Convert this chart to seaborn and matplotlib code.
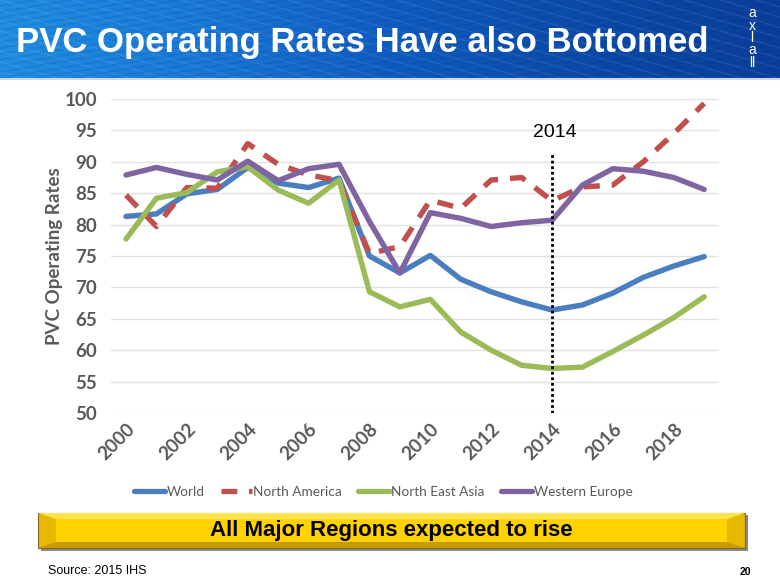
import numpy as np
import pandas as pd
import seaborn as sns
import matplotlib.pyplot as plt
from matplotlib.lines import Line2D
from matplotlib.patches import Rectangle, Polygon
from matplotlib.colors import LinearSegmentedColormap

years = list(range(2000, 2020))
world = [81.3, 81.7, 84.9, 85.6, 89.1, 86.6, 85.9, 87.4, 75.0, 72.3,
         75.1, 71.3, 69.3, 67.7, 66.4, 67.2, 69.1, 71.6, 73.4, 74.9]
north_america = [84.7, 79.7, 85.9, 85.8, 92.9, 89.6, 87.9, 87.0, 75.4, 76.5,
                 83.9, 82.6, 87.1, 87.5, 83.8, 86.0, 86.3, 90.0, 94.5, 99.3]
north_east_asia = [77.7, 84.2, 85.1, 88.4, 89.2, 85.5, 83.4, 87.1, 69.3, 66.9,
                   68.1, 62.9, 60.0, 57.6, 57.1, 57.3, 59.8, 62.4, 65.2, 68.5]
western_europe = [87.9, 89.1, 88.0, 87.1, 90.1, 87.0, 88.9, 89.6, 80.5, 72.3,
                  81.9, 81.0, 79.7, 80.3, 80.7, 86.3, 88.9, 88.5, 87.5, 85.6]
regions = ["World", "North America", "North East Asia", "Western Europe"]
colors = ["#4a7ebf", "#c0504d", "#9bbb59", "#8064a2"]
tick_years = list(range(2000, 2019, 2))

df = pd.DataFrame({
    "year": years * 4,
    "rate": world + north_america + north_east_asia + western_europe,
    "region": sum([[r] * len(years) for r in regions], []),
})

sns.set_theme(style="white")
plt.rcParams["font.family"] = ["Liberation Sans", "DejaVu Sans"]

fig = plt.figure(figsize=(7.8, 5.85), dpi=100)

# header band
hdr = fig.add_axes([0, 1 - 78 / 585, 1, 78 / 585])
grad = np.linspace(0, 1, 400)[None, :]
cmap = LinearSegmentedColormap.from_list("hdr", ["#1f8de2", "#1a78d6", "#0f5cc0", "#0b4aa8", "#0a3e9a"])
hdr.imshow(np.repeat(grad, 10, axis=0), aspect="auto", cmap=cmap, extent=[0, 1, 0, 1])
for k in np.linspace(-0.6, 1.2, 40):
    hdr.plot([k, k + 0.35], [1, 0], color="white", alpha=0.07, lw=1.2)
    hdr.plot([k, k + 0.6], [0, 1], color="#06307a", alpha=0.12, lw=1.2)
hdr.set_xlim(0, 1)
hdr.set_ylim(0, 1)
hdr.axis("off")
hdr.text(0.02, 0.46, "PVC Operating Rates Have also Bottomed", color="white",
         fontsize=25, fontweight="bold", va="center", ha="left",
         transform=hdr.transAxes)
# stacked logo letters (one text block)
hdr.text(752 / 780, 1 - 38 / 78, "a\nx\nl\na\nll", color="white", fontsize=10,
         linespacing=0.85, ha="center", va="center", multialignment="center",
         transform=hdr.transAxes)
fig.add_artist(Line2D([0, 1], [1 - 79 / 585] * 2, color="#d0d8e8", lw=1.5))

# main chart
ax = fig.add_axes([110.8 / 780, 172 / 585, 608.6 / 780, 314 / 585])
sns.lineplot(data=df, x="year", y="rate", hue="region", style="region",
             palette=dict(zip(regions, colors)),
             dashes={"World": "", "North America": (3, 2.2),
                     "North East Asia": "", "Western Europe": ""},
             linewidth=3.9, legend=False, ax=ax)
ax.set_xlim(1999.5, 2019.5)
ax.set_ylim(50, 100)
ax.set_yticks(range(50, 101, 5))
ax.set_xticks(tick_years)
ax.set_xticklabels([str(t) for t in tick_years], rotation=45, ha="right",
                   rotation_mode="anchor", fontsize=13.5, fontweight="bold",
                   color="#595959", family="Lato")
ax.set_yticklabels([str(t) for t in range(50, 101, 5)], fontsize=13.5,
                   fontweight="bold", color="#595959", family="Lato")
ax.tick_params(axis="x", pad=5, length=0)
ax.tick_params(axis="y", pad=10, length=0)
ax.yaxis.grid(True, color="#e2e2e2", lw=1)
for s in ax.spines.values():
    s.set_visible(False)
ax.set_xlabel("")
ax.set_ylabel("PVC Operating Rates", fontsize=13.5, fontweight="bold",
              color="#595959", family="Lato", labelpad=1)

ax.plot([2014, 2014], [50, 91.2], color="black", ls=(0, (1, 1)), lw=2)
ax.text(2014.1, 94.6, "2014", fontsize=14, ha="center", va="center", color="black")

handles = [Line2D([], [], color=c, lw=3.8, ls=(0, (3, 2.2)) if r == "North America" else "-")
           for r, c in zip(regions, colors)]
fig.legend(handles, regions, loc="center", bbox_to_anchor=(383 / 780, 1 - 492 / 585),
           ncol=4, frameon=False, handlelength=2.3, handletextpad=0.1,
           columnspacing=1.2, prop={"family": "Lato", "size": 9.8},
           labelcolor="#595959")

# yellow banner
fig.add_artist(Rectangle((41 / 780, 1 - 551 / 585), 707 / 780, 36 / 585,
                         facecolor="#8a8a8a", edgecolor="none", transform=fig.transFigure))
x0, x1, y0, y1 = 38 / 780, 745 / 780, 1 - 548 / 585, 1 - 513 / 585
fig.add_artist(Rectangle((x0, y0), x1 - x0, y1 - y0, facecolor="#e6b800",
                         edgecolor="#7a6a20", lw=0.8, transform=fig.transFigure))
ix0, ix1, iy0, iy1 = 56 / 780, 727 / 780, 1 - 542 / 585, 1 - 519 / 585
fig.add_artist(Polygon([(x0, y1), (x1, y1), (ix1, iy1), (ix0, iy1)], closed=True,
                       facecolor="#ffe44d", edgecolor="none", transform=fig.transFigure))
fig.add_artist(Polygon([(x0, y0), (x1, y0), (ix1, iy0), (ix0, iy0)], closed=True,
                       facecolor="#c99a00", edgecolor="none", transform=fig.transFigure))
fig.add_artist(Rectangle((ix0, iy0), ix1 - ix0, iy1 - iy0, facecolor="#ffd200",
                         edgecolor="none", transform=fig.transFigure))
fig.text((x0 + x1) / 2, (y0 + y1) / 2, "All Major Regions expected to rise",
         fontsize=16, fontweight="bold", ha="center", va="center", color="black")

fig.text(48 / 780, 1 - 571 / 585, "Source: 2015 IHS", fontsize=9, va="center", color="black")
fig.text(745 / 780, 1 - 572 / 585, "20", fontsize=7.5, fontweight="bold", va="center",
         ha="center", color="black")

fig.savefig("out.png", dpi=100)
